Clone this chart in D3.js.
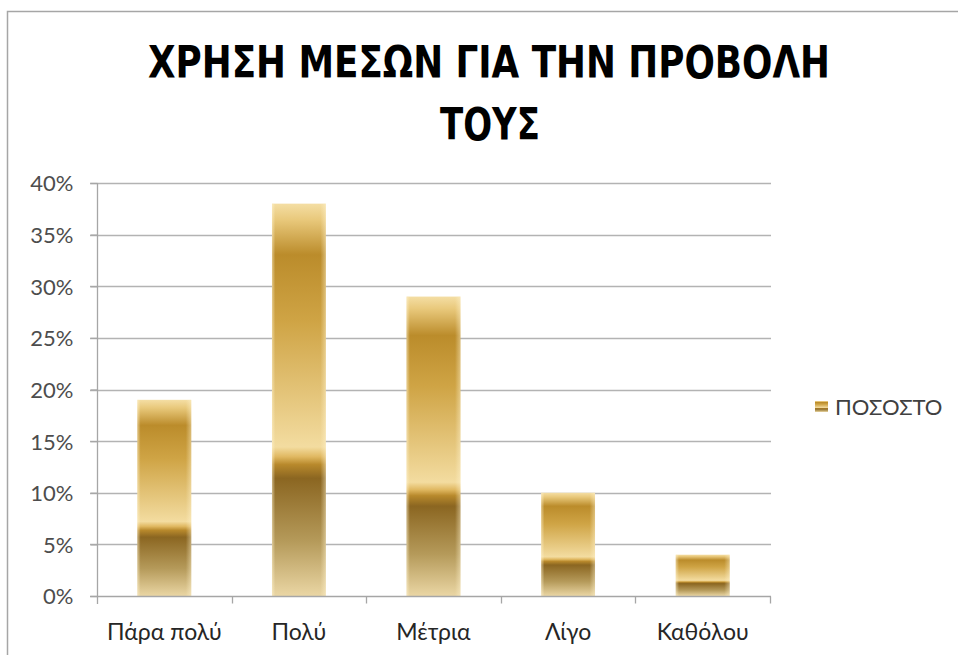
<!DOCTYPE html>
<html>
<head>
<meta charset="utf-8">
<script src="https://cdn.jsdelivr.net/npm/d3@7"></script>
<style>
  html, body { margin: 0; padding: 0; background: #fff; }
  svg { display: block; }
</style>
</head>
<body>
<svg id="chart" width="958" height="655"></svg>
<script>
// Survey: use of media for their promotion
const categories = ["Πάρα πολύ", "Πολύ", "Μέτρια", "Λίγο", "Καθόλου"];
const values = [0.19, 0.38, 0.29, 0.10, 0.04];
const yTicks = [0, 0.05, 0.10, 0.15, 0.20, 0.25, 0.30, 0.35, 0.40];
const seriesName = "ΠΟΣΟΣΤΟ";
const titleLines = ["ΧΡΗΣΗ ΜΕΣΩΝ ΓΙΑ ΤΗΝ ΠΡΟΒΟΛΗ", "ΤΟΥΣ"];

const svg = d3.select("#chart");
const W = 958, H = 655;
const plot = { left: 97, right: 770, top: 183, bottom: 596 };
const labelFont = "Lato, 'Open Sans', sans-serif";

// outer chart frame
svg.append("rect")
  .attr("x", 7.5).attr("y", 11.5)
  .attr("width", W + 10).attr("height", H + 10)
  .attr("fill", "#fff")
  .attr("stroke", "#a6a6a6").attr("stroke-width", 1.5);

// gold preset gradient (vertical) for the bars
const defs = svg.append("defs");
const gold = defs.append("linearGradient")
  .attr("id", "gold").attr("x1", 0).attr("y1", 0).attr("x2", 0).attr("y2", 1);
[
  [0.00, "#f4dea4"],
  [0.04, "#e9c97c"],
  [0.13, "#bb8c2b"],
  [0.30, "#cfa445"],
  [0.62, "#f3dca0"],
  [0.645, "#e0b861"],
  [0.665, "#b8892c"],
  [0.70, "#8b6621"],
  [0.86, "#b59a5a"],
  [1.00, "#ead6a4"]
].forEach(([o, c]) => gold.append("stop").attr("offset", o).attr("stop-color", c));

// soft light edges on the sides of each bar
const sheen = defs.append("linearGradient")
  .attr("id", "sheen").attr("x1", 0).attr("y1", 0).attr("x2", 1).attr("y2", 0);
[
  [0.00, "#fff3d0", 0.55],
  [0.06, "#fff3d0", 0.0],
  [0.90, "#fff3d0", 0.0],
  [1.00, "#fff3d0", 0.45]
].forEach(([o, c, a]) => sheen.append("stop").attr("offset", o)
  .attr("stop-color", c).attr("stop-opacity", a));

// scales
const y = d3.scaleLinear().domain([0, 0.4]).range([plot.bottom, plot.top]);
const xCat = d3.scaleBand().domain(categories).range([plot.left, plot.right]).padding(0);
const xBar = d3.scaleBand().domain(categories).range([plot.left, plot.right])
  .paddingInner(0.6).paddingOuter(0.3);

// gridlines
svg.append("g")
  .selectAll("line")
  .data(yTicks.filter(d => d > 0))
  .join("line")
  .attr("x1", plot.left - 7).attr("x2", plot.right + 1)
  .attr("y1", d => Math.round(y(d)) + 0.5).attr("y2", d => Math.round(y(d)) + 0.5)
  .attr("stroke", "#b3b3b3").attr("stroke-width", 1.3);

// y axis
const yAxis = d3.axisLeft(y)
  .tickValues(yTicks)
  .tickFormat(d3.format(".0%"))
  .tickSize(7)
  .tickPadding(17);
const gy = svg.append("g")
  .attr("transform", `translate(${plot.left + 0.5},0)`)
  .call(yAxis);
gy.select(".domain").attr("stroke", "#a6a6a6").attr("stroke-width", 1.3)
  .attr("d", `M0,${plot.top}V${plot.bottom + 8}`);
gy.selectAll(".tick line").attr("stroke", "#a6a6a6").attr("stroke-width", 1.3);
gy.selectAll(".tick text")
  .attr("fill", "#4d4d4d")
  .style("font-family", labelFont)
  .style("font-size", "22px")
  .attr("dy", "0.36em");

// bars
svg.append("g")
  .selectAll("g")
  .data(categories.map((c, i) => ({ c, v: values[i] })))
  .join("g")
  .each(function (d) {
    const g = d3.select(this);
    const x0 = xBar(d.c), w = xBar.bandwidth();
    const y0 = y(d.v), h = y(0) - y(d.v);
    g.append("rect").attr("x", x0).attr("y", y0).attr("width", w).attr("height", h)
      .attr("fill", "url(#gold)");
    g.append("rect").attr("x", x0).attr("y", y0).attr("width", w).attr("height", h)
      .attr("fill", "url(#sheen)");
  });

// x axis
const xAxis = d3.axisBottom(xCat).tickSize(0).tickPadding(27);
const gx = svg.append("g")
  .attr("transform", `translate(0,${plot.bottom + 0.5})`)
  .call(xAxis);
gx.select(".domain").attr("stroke", "#a6a6a6").attr("stroke-width", 1.3)
  .attr("d", `M${plot.left - 7},0H${plot.right + 1}`);
gx.selectAll(".tick text")
  .attr("fill", "#262626")
  .style("font-family", labelFont)
  .style("font-size", "23px");
// category boundary tick marks
const bounds = categories.map(c => xCat(c)).concat([xCat(categories[categories.length - 1]) + xCat.bandwidth()]);
gx.append("g").selectAll("line")
  .data(bounds.slice(1))
  .join("line")
  .attr("x1", d => Math.round(d) + 0.5).attr("x2", d => Math.round(d) + 0.5)
  .attr("y1", 0).attr("y2", 7)
  .attr("stroke", "#a6a6a6").attr("stroke-width", 1.3);

// title
const title = svg.append("g").attr("text-anchor", "middle")
  .style("font-family", "'DejaVu Sans Condensed', 'DejaVu Sans', sans-serif")
  .style("font-stretch", "condensed")
  .style("font-weight", "bold")
  .style("font-size", "45px")
  .attr("fill", "#000");
title.append("text").attr("x", 489).attr("y", 78)
  .attr("textLength", 682).attr("lengthAdjust", "spacingAndGlyphs")
  .text(titleLines[0]);
title.append("text").attr("x", 490).attr("y", 140)
  .attr("textLength", 100).attr("lengthAdjust", "spacingAndGlyphs")
  .text(titleLines[1]);

// legend
const legend = svg.append("g").attr("transform", "translate(815,401)");
legend.append("rect").attr("width", 13).attr("height", 11).attr("fill", "url(#gold)");
legend.append("text").attr("x", 20).attr("y", 6).attr("dy", "0.36em")
  .attr("fill", "#404040")
  .style("font-family", labelFont)
  .style("font-size", "22px")
  .text(seriesName);
</script>
</body>
</html>
